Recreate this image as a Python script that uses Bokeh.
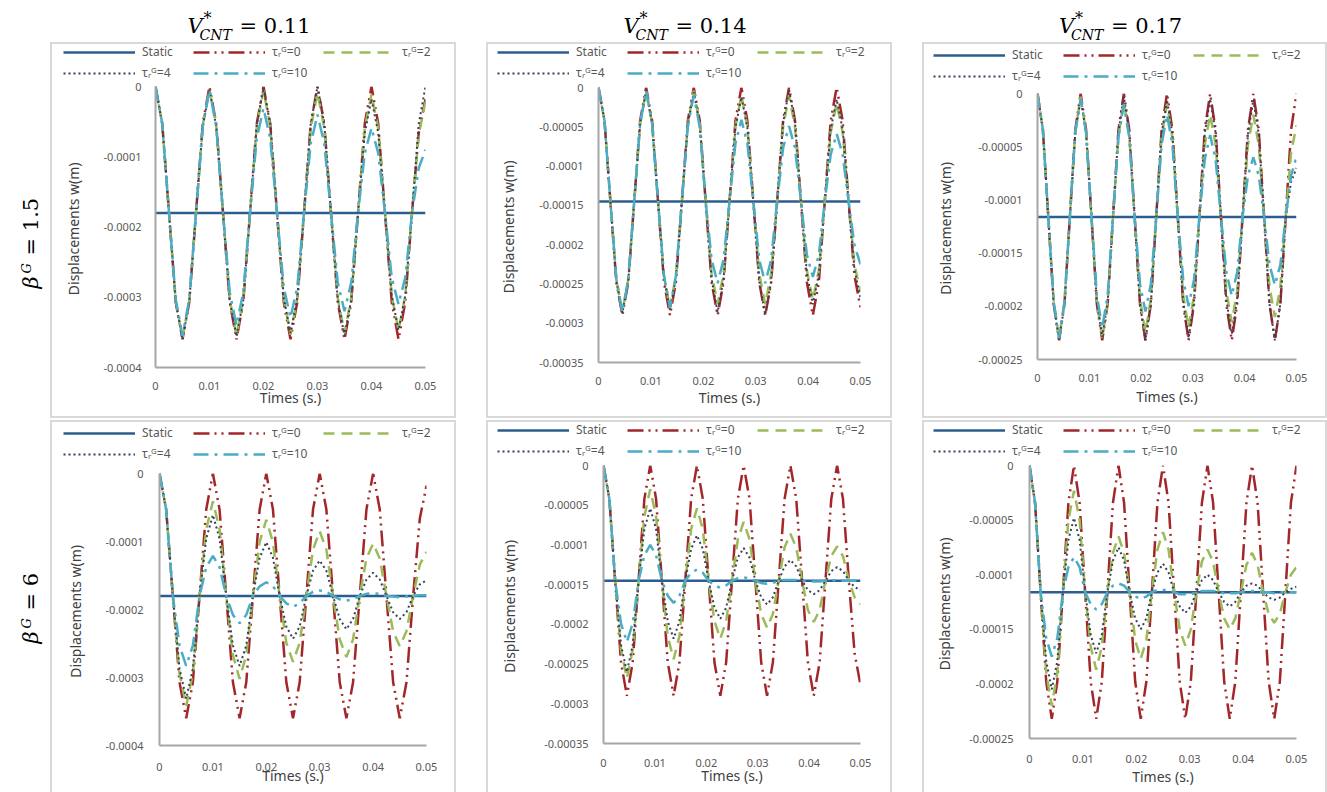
import math
import numpy as np
from bokeh.plotting import figure
from bokeh.models import Range1d, FixedTicker, Legend, LegendItem, Spacer
from bokeh.layouts import column, row
from bokeh.core.properties import value
from bokeh.embed import file_html
from bokeh.resources import INLINE

# ---------------- data (displacements in micrometres) -------------
t_v011 = [0, 0.00125, 0.0025, 0.00375, 0.005, 0.00625, 0.0075, 0.00875, 0.01, 0.01125, 0.0125,
          0.01375, 0.015, 0.01625, 0.0175, 0.01875, 0.02, 0.02125, 0.0225, 0.02375, 0.025, 0.02625,
          0.0275, 0.02875, 0.03, 0.03125, 0.0325, 0.03375, 0.035, 0.03625, 0.0375, 0.03875, 0.04,
          0.04125, 0.0425, 0.04375, 0.045, 0.04625, 0.0475, 0.04875, 0.05]
t_v014 = [0, 0.00114, 0.00227, 0.00341, 0.00455, 0.00568, 0.00682, 0.00795, 0.00909, 0.01023,
          0.01136, 0.0125, 0.01364, 0.01477, 0.01591, 0.01705, 0.01818, 0.01932, 0.02045, 0.02159,
          0.02273, 0.02386, 0.025, 0.02614, 0.02727, 0.02841, 0.02955, 0.03068, 0.03182, 0.03295,
          0.03409, 0.03523, 0.03636, 0.0375, 0.03864, 0.03977, 0.04091, 0.04205, 0.04318, 0.04432,
          0.04545, 0.04659, 0.04773, 0.04886, 0.05]
t_v017 = [0, 0.00104, 0.00208, 0.00313, 0.00417, 0.00521, 0.00625, 0.00729, 0.00833, 0.00938,
          0.01042, 0.01146, 0.0125, 0.01354, 0.01458, 0.01563, 0.01667, 0.01771, 0.01875, 0.01979,
          0.02083, 0.02188, 0.02292, 0.02396, 0.025, 0.02604, 0.02708, 0.02813, 0.02917, 0.03021,
          0.03125, 0.03229, 0.03333, 0.03438, 0.03542, 0.03646, 0.0375, 0.03854, 0.03958, 0.04063,
          0.04167, 0.04271, 0.04375, 0.04479, 0.04583, 0.04688, 0.04792, 0.04896, 0.05]

static_v011 = -0.000180
static_v014 = -0.000145
static_v017 = -0.000116

# beta_G = 1.5, V* = 0.11
w_b15_v011_tau0 = [0, -53, -180, -307, -360, -307, -180, -53, 0, -53, -180, -307, -360, -307, -180, -53, 0, -53, -180, -307, -360, -307, -180, -53, 0, -53, -180, -307, -360, -307, -180, -53, 0, -53, -180, -307, -360, -307, -180, -66, -18]
w_b15_v011_tau2 = [0, -53, -180, -306, -358, -306, -180, -55, -4, -55, -180, -303, -355, -303, -180, -57, -5, -57, -180, -302, -353, -302, -180, -59, -9, -59, -180, -301, -351, -301, -180, -60, -11, -60, -180, -298, -347, -298, -180, -68, -22]
w_b15_v011_tau4 = [0, -53, -180, -307, -360, -307, -180, -57, -5, -57, -180, -305, -356, -305, -180, -54, -2, -54, -180, -301, -351, -301, -180, -53, 0, -53, -180, -303, -355, -303, -180, -66, -18, -66, -180, -298, -347, -298, -180, -53, 0]
w_b15_v011_tau10 = [0, -53, -180, -303, -355, -303, -180, -57, -5, -57, -180, -293, -340, -293, -180, -74, -31, -74, -180, -286, -329, -286, -180, -81, -40, -81, -180, -279, -320, -279, -180, -95, -59, -95, -180, -272, -310, -272, -180, -116, -90]

# beta_G = 1.5, V* = 0.14
w_b15_v014_tau0 = [0, -42, -145, -248, -290, -248, -145, -42, 0, -42, -145, -248, -290, -248, -145, -42, 0, -42, -145, -248, -290, -248, -145, -42, 0, -42, -145, -248, -290, -248, -145, -42, 0, -42, -145, -248, -290, -248, -145, -42, 0, -42, -145, -240, -280]
w_b15_v014_tau2 = [0, -42, -145, -244, -286, -244, -145, -46, -4, -46, -145, -240, -280, -240, -145, -46, -4, -46, -145, -237, -276, -237, -145, -50, -10, -50, -145, -237, -276, -237, -145, -50, -10, -50, -145, -233, -270, -233, -145, -57, -20, -57, -145, -226, -260]
w_b15_v014_tau4 = [0, -42, -145, -246, -287, -246, -145, -46, -4, -46, -145, -242, -283, -242, -145, -47, -6, -47, -145, -244, -286, -244, -145, -51, -12, -51, -145, -247, -289, -247, -145, -45, -3, -45, -145, -237, -276, -237, -145, -53, -15, -53, -145, -232, -268]
w_b15_v014_tau10 = [0, -42, -145, -244, -286, -244, -145, -46, -4, -46, -145, -240, -280, -240, -145, -50, -10, -50, -145, -219, -249, -219, -145, -71, -41, -71, -145, -219, -249, -219, -145, -77, -49, -77, -145, -213, -241, -213, -145, -85, -59, -85, -145, -201, -225]

# beta_G = 1.5, V* = 0.17
w_b15_v017_tau0 = [0, -34, -116, -198, -232, -198, -116, -34, 0, -34, -116, -198, -232, -198, -116, -34, 0, -34, -116, -198, -232, -198, -116, -34, 0, -34, -116, -198, -232, -198, -116, -34, 0, -34, -116, -198, -232, -198, -116, -34, 0, -34, -116, -198, -232, -198, -116, -34, 0]
w_b15_v017_tau2 = [0, -34, -116, -196, -230, -196, -116, -36, -3, -36, -116, -196, -230, -196, -116, -40, -8, -40, -116, -193, -225, -193, -116, -41, -10, -41, -116, -190, -220, -190, -116, -48, -20, -48, -116, -186, -215, -186, -116, -48, -20, -48, -116, -182, -210, -182, -116, -55, -30]
w_b15_v017_tau4 = [0, -34, -116, -198, -232, -198, -116, -37, -5, -37, -116, -196, -229, -196, -116, -36, -3, -36, -116, -198, -232, -198, -116, -38, -6, -38, -116, -196, -230, -196, -116, -37, -5, -37, -116, -194, -226, -194, -116, -38, -6, -38, -116, -198, -232, -198, -116, -83, -70]
w_b15_v017_tau10 = [0, -34, -116, -196, -230, -196, -116, -37, -5, -37, -116, -190, -220, -190, -116, -41, -10, -41, -116, -179, -205, -179, -116, -48, -20, -48, -116, -175, -200, -175, -116, -62, -39, -62, -116, -168, -190, -168, -116, -77, -60, -77, -116, -161, -180, -161, -116, -77, -60]

# beta_G = 6, V* = 0.11
w_b6_v011_tau0 = [0, -53, -180, -307, -360, -307, -180, -53, 0, -53, -180, -307, -360, -307, -180, -53, 0, -53, -180, -307, -360, -307, -180, -53, 0, -53, -180, -307, -360, -307, -180, -53, 0, -53, -180, -307, -360, -307, -180, -66, -18]
w_b6_v011_tau2 = [0, -53, -180, -294, -342, -294, -180, -82, -41, -82, -180, -267, -302, -267, -180, -101, -68, -101, -180, -249, -277, -249, -180, -112, -85, -112, -180, -244, -270, -244, -180, -125, -103, -125, -180, -232, -254, -232, -180, -134, -115]
w_b6_v011_tau4 = [0, -53, -180, -287, -331, -287, -180, -96, -61, -96, -180, -253, -283, -253, -180, -124, -101, -124, -180, -225, -243, -225, -180, -143, -128, -143, -180, -214, -229, -214, -180, -156, -146, -156, -180, -204, -214, -204, -180, -163, -157]
w_b6_v011_tau10 = [0, -53, -180, -253, -283, -253, -180, -138, -121, -138, -180, -208, -220, -208, -180, -166, -160, -166, -180, -191, -196, -191, -180, -174, -172, -174, -180, -185, -187, -185, -180, -177, -176, -177, -180, -181, -182, -181, -180, -179, -179]

# beta_G = 6, V* = 0.14
w_b6_v014_tau0 = [0, -42, -145, -248, -290, -248, -145, -42, 0, -42, -145, -248, -290, -248, -145, -42, 0, -42, -145, -248, -290, -248, -145, -42, 0, -42, -145, -248, -290, -248, -145, -42, 0, -42, -145, -248, -290, -248, -145, -42, 0, -42, -145, -237, -276]
w_b6_v014_tau2 = [0, -42, -145, -232, -268, -232, -145, -64, -30, -64, -145, -215, -244, -215, -145, -80, -54, -80, -145, -196, -218, -196, -145, -93, -71, -93, -145, -187, -204, -187, -145, -103, -86, -103, -145, -182, -197, -182, -145, -114, -102, -114, -145, -166, -175]
w_b6_v014_tau4 = [0, -42, -145, -226, -260, -226, -145, -80, -54, -80, -145, -196, -218, -196, -145, -105, -88, -105, -145, -179, -193, -179, -145, -116, -104, -116, -145, -166, -175, -166, -145, -127, -119, -127, -145, -157, -162, -157, -145, -133, -128, -133, -145, -153, -157]
w_b6_v014_tau10 = [0, -42, -145, -199, -222, -199, -145, -113, -100, -113, -145, -164, -173, -164, -145, -135, -131, -135, -145, -151, -154, -151, -145, -142, -141, -142, -145, -148, -149, -148, -145, -144, -144, -144, -145, -146, -146, -146, -145, -145, -144, -145, -145, -145, -145]

# beta_G = 6, V* = 0.17
w_b6_v017_tau0 = [0, -34, -116, -198, -232, -198, -116, -34, 0, -34, -116, -198, -232, -198, -116, -34, 0, -34, -116, -198, -232, -198, -116, -34, 0, -34, -116, -198, -232, -198, -116, -34, 0, -34, -116, -198, -232, -198, -116, -34, 0, -34, -116, -198, -232, -198, -116, -34, 0]
w_b6_v017_tau2 = [0, -34, -116, -190, -220, -190, -116, -50, -23, -50, -116, -166, -187, -166, -116, -80, -65, -80, -116, -160, -177, -160, -116, -77, -61, -77, -116, -150, -165, -150, -116, -88, -77, -88, -116, -140, -150, -140, -116, -91, -80, -91, -116, -136, -144, -136, -116, -100, -93]
w_b6_v017_tau4 = [0, -34, -116, -179, -205, -179, -116, -68, -48, -68, -116, -155, -172, -155, -116, -87, -75, -87, -116, -140, -150, -140, -116, -98, -90, -98, -116, -129, -135, -129, -116, -105, -100, -105, -116, -125, -129, -125, -116, -110, -108, -110, -116, -121, -123, -121, -116, -113, -111]
w_b6_v017_tau10 = [0, -34, -116, -158, -175, -158, -116, -93, -84, -93, -116, -127, -132, -127, -116, -110, -108, -110, -116, -120, -122, -120, -116, -114, -114, -114, -116, -118, -118, -118, -116, -115, -115, -115, -116, -117, -117, -117, -116, -115, -115, -115, -116, -116, -117, -116, -116, -116, -116]

# tick values and labels
x_ticks = [0, 0.01, 0.02, 0.03, 0.04, 0.05]
x_tick_labels = ["0", "0.01", "0.02", "0.03", "0.04", "0.05"]
y_ticks_v011 = [0, -0.0001, -0.0002, -0.0003, -0.0004]
y_tick_labels_v011 = ["0", "-0.0001", "-0.0002", "-0.0003", "-0.0004"]
y_ticks_v014 = [0, -0.00005, -0.0001, -0.00015, -0.0002, -0.00025, -0.0003, -0.00035]
y_tick_labels_v014 = ["0", "-0.00005", "-0.0001", "-0.00015", "-0.0002", "-0.00025", "-0.0003", "-0.00035"]
y_ticks_v017 = [0, -0.00005, -0.0001, -0.00015, -0.0002, -0.00025]
y_tick_labels_v017 = ["0", "-0.00005", "-0.0001", "-0.00015", "-0.0002", "-0.00025"]

series_labels = ["Static", "τᵣᴳ=0", "τᵣᴳ=2", "τᵣᴳ=4", "τᵣᴳ=10"]
vcnt_values = ["0.11", "0.14", "0.17"]
beta_values = ["1.5", "6"]
x_title = "Times (s.)"
y_title = "Displacements  w(m)"

UM = 1e-6  # micrometre -> metre

# ---------------- styles ----------------
STATIC_STYLE = dict(color="#2C5D8F", width=2.5, dash="solid")
CURVE_STYLES = [
    dict(color="#A3262A", width=2.5, dash="16 5 2 5 2 5"),
    dict(color="#9BBB59", width=2.5, dash="11 7"),
    dict(color="#3A3F58", width=2.0, dash="2 3"),
    dict(color="#4BACC6", width=2.5, dash="15 6 3 6"),
]
TICK_FONT = "Noto Sans"
LEG_H = 37
BORDER = "2px solid #D9D9D9"

# geometry: W content width, LH legend strip height, H plot height, borders, legend offsets
panels = [
    dict(t=t_v011, curves=[w_b15_v011_tau0, w_b15_v011_tau2, w_b15_v011_tau4, w_b15_v011_tau10],
         static=static_v011, yt=y_ticks_v011, yl=y_tick_labels_v011,
         W=402, LH=36, H=336, bl=103, br=29, bt=6, bb=49, ldx=11, ldy=0,
         ylso=18, ymso=14, xmso=14, xlso=-5, bottom=True),
    dict(t=t_v014, curves=[w_b15_v014_tau0, w_b15_v014_tau2, w_b15_v014_tau4, w_b15_v014_tau10],
         static=static_v014, yt=y_ticks_v014, yl=y_tick_labels_v014,
         W=402, LH=37, H=335, bl=110, br=30, bt=6, bb=54, ldx=9, ldy=0,
         ylso=18, ymso=15, xmso=14, xlso=0, bottom=True),
    dict(t=t_v017, curves=[w_b15_v017_tau0, w_b15_v017_tau2, w_b15_v017_tau4, w_b15_v017_tau10],
         static=static_v017, yt=y_ticks_v017, yl=y_tick_labels_v017,
         W=401, LH=42, H=330, bl=113, br=29, bt=7, bb=57, ldx=9, ldy=3,
         ylso=20, ymso=15, xmso=14, xlso=2, bottom=True),
    dict(t=t_v011, curves=[w_b6_v011_tau0, w_b6_v011_tau2, w_b6_v011_tau4, w_b6_v011_tau10],
         static=static_v011, yt=y_ticks_v011, yl=y_tick_labels_v011,
         W=402, LH=44, H=326, bl=107, br=28, bt=7, bb=47, ldx=11, ldy=3,
         ylso=18, ymso=16, xmso=17, xlso=-8, bottom=False),
    dict(t=t_v014, curves=[w_b6_v014_tau0, w_b6_v014_tau2, w_b6_v014_tau4, w_b6_v014_tau10],
         static=static_v014, yt=y_ticks_v014, yl=y_tick_labels_v014,
         W=402, LH=37, H=333, bl=115, br=30, bt=6, bb=49, ldx=9, ldy=0,
         ylso=22, ymso=15, xmso=15, xlso=-4, bottom=False),
    dict(t=t_v017, curves=[w_b6_v017_tau0, w_b6_v017_tau2, w_b6_v017_tau4, w_b6_v017_tau10],
         static=static_v017, yt=y_ticks_v017, yl=y_tick_labels_v017,
         W=401, LH=37, H=333, bl=105, br=29, bt=6, bb=54, ldx=9, ldy=0,
         ylso=12, ymso=16, xmso=16, xlso=1, bottom=False),
]


def bare_fig(w, h, xr, yr):
    f = figure(width=w, height=h, x_range=xr, y_range=yr, x_axis_type=None, y_axis_type=None,
               min_border=0, outline_line_color=None, toolbar_location=None,
               output_backend="svg", title=None, background_fill_color="white",
               border_fill_color="white")
    f.xgrid.visible = False
    f.ygrid.visible = False
    return f


def add_series(fig, t, static, curves):
    """Draw the static line and the four transient curves; returns the renderers."""
    rs = [fig.line(x=[t[0], t[-1]], y=[static, static], line_color=STATIC_STYLE["color"],
                   line_width=STATIC_STYLE["width"])]
    for c, st in zip(curves, CURVE_STYLES):
        rs.append(fig.line(x=t, y=np.array(c, dtype=float) * UM, line_color=st["color"],
                           line_width=st["width"], line_dash=st["dash"]))
    return rs


def make_panel(d):
    t = d["t"]
    for c in d["curves"]:
        assert len(c) == len(t), (len(c), len(t))

    # ---- legend strip: same series, ranges chosen so the lines themselves fall outside ----
    lf = bare_fig(d["W"], d["LH"], Range1d(1, 2), Range1d(1, 2))
    sw = add_series(lf, t, d["static"], d["curves"])
    items = [LegendItem(label=lab, renderers=[rr]) for lab, rr in zip(series_labels, sw)]
    leg = Legend(items=items, location=(d["ldx"], d["LH"] - d["ldy"] - LEG_H),
                 orientation="horizontal", ncols=3,
                 glyph_width=72, glyph_height=14, label_height=14, label_width=47,
                 label_standoff=7, spacing=4, padding=0, margin=0,
                 label_text_font=TICK_FONT, label_text_font_size="12px",
                 label_text_line_height=1.0, label_text_color="#595959",
                 background_fill_alpha=0, border_line_color=None)
    lf.add_layout(leg)

    # ---- plot ----
    p = figure(width=d["W"], height=d["H"], x_range=Range1d(0, 0.05), y_range=Range1d(d["yt"][-1], 0),
               min_border_left=d["bl"], min_border_right=d["br"], min_border_top=d["bt"],
               min_border_bottom=d["bb"], output_backend="svg", toolbar_location=None, title=None,
               background_fill_color="white", border_fill_color="white", outline_line_color=None)
    p.xgrid.visible = False
    p.ygrid.visible = False
    add_series(p, t, d["static"], d["curves"])

    for ax in (p.xaxis[0], p.yaxis[0]):
        ax.axis_line_color = "#A6A6A6"
        ax.axis_line_width = 2
        ax.major_tick_line_color = None
        ax.minor_tick_line_color = None
        ax.major_tick_out = 0
        ax.major_tick_in = 0
        ax.minor_tick_out = 0
        ax.major_label_text_font = TICK_FONT
        ax.major_label_text_font_size = "11px"
        ax.major_label_text_color = "#595959"
        ax.axis_label_text_font = TICK_FONT
        ax.axis_label_text_font_size = "14px"
        ax.axis_label_text_font_style = "normal"
        ax.axis_label_text_color = "#404040"

    xa = p.xaxis[0]
    xa.ticker = FixedTicker(ticks=x_ticks)
    xa.major_label_overrides = {k: v for k, v in zip(x_ticks, x_tick_labels)}
    xa.major_label_standoff = d["xmso"]
    xa.axis_label = x_title
    xa.axis_label_standoff = d["xlso"]

    ya = p.yaxis[0]
    ya.ticker = FixedTicker(ticks=d["yt"])
    ya.major_label_overrides = {k: v for k, v in zip(d["yt"], d["yl"])}
    ya.major_label_standoff = d["ymso"]
    ya.axis_label = y_title
    ya.axis_label_standoff = d["ylso"]

    box = column(row(lf), row(p))
    if d["bottom"]:
        box.styles = {"border": BORDER}
    else:
        box.styles = {"border-top": BORDER, "border-left": BORDER, "border-right": BORDER}
    return box


boxes = [make_panel(d) for d in panels]

# ---------------- column titles ----------------
SERIF = value("DejaVu Serif")
BASE_SHIFT = 0.33  # renderer places the alphabetic baseline ~0.33 em lower
col_centers = [253, 689, 1124.5]
title = bare_fig(1327, 42, Range1d(0, 1327), Range1d(42, 0))
title.text(x=[c - 66 for c in col_centers], y=[32 - BASE_SHIFT * 21] * 3, text=["V"] * 3,
           text_font=SERIF, text_font_style="italic", text_font_size="21px",
           text_baseline="alphabetic", text_align="left", text_color="black")
title.text(x=[c - 50 for c in col_centers], y=[23 - BASE_SHIFT * 16] * 3, text=["*"] * 3,
           text_font=SERIF, text_font_size="16px", text_baseline="alphabetic",
           text_align="left", text_color="black")
title.text(x=[c - 54 for c in col_centers], y=[39 - BASE_SHIFT * 14] * 3, text=["CNT"] * 3,
           text_font=SERIF, text_font_style="italic", text_font_size="14px",
           text_baseline="alphabetic", text_align="left", text_color="black")
title.text(x=[c - 14 for c in col_centers], y=[32 - BASE_SHIFT * 21] * 3,
           text=["= " + v for v in vcnt_values], text_font=SERIF, text_font_size="21px",
           text_baseline="alphabetic", text_align="left", text_color="black")


# ---------------- row labels ----------------
def row_label(h, beta_text, base_y):
    f = bare_fig(50, h, Range1d(0, 50), Range1d(h, 0))
    a = math.pi / 2
    f.text(x=[37 - BASE_SHIFT * 21], y=[base_y], text=["β"], angle=a, text_font=SERIF,
           text_font_style="italic", text_font_size="21px", text_baseline="alphabetic",
           text_align="left", text_color="black")
    f.text(x=[30 - BASE_SHIFT * 13], y=[base_y - 15], text=["G"], angle=a, text_font=SERIF,
           text_font_style="italic", text_font_size="13px", text_baseline="alphabetic",
           text_align="left", text_color="black")
    f.text(x=[37 - BASE_SHIFT * 21], y=[base_y - 33], text=["= " + beta_text], angle=a,
           text_font=SERIF, text_font_size="21px", text_baseline="alphabetic",
           text_align="left", text_color="black")
    return f


lab1 = row_label(376, beta_values[0], 288 - 42)
lab2 = row_label(372, beta_values[1], 643 - 420)

row1 = row(lab1, boxes[0], Spacer(width=30, height=376), boxes[1], Spacer(width=30, height=376), boxes[2])
row2 = row(lab2, boxes[3], Spacer(width=30, height=372), boxes[4], Spacer(width=30, height=372), boxes[5])
layout = column(title, row1, Spacer(width=1327, height=2), row2)

open("out.html", "w").write(file_html(layout, INLINE, "Displacements"))
